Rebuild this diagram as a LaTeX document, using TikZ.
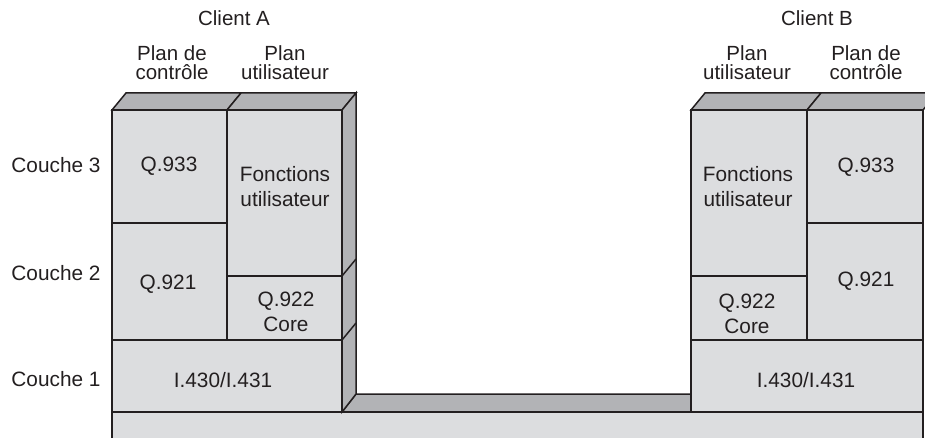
\documentclass[tikz,border=0pt]{standalone}
\usepackage{fontspec}
\setmainfont{Liberation Sans}
\definecolor{frontgray}{HTML}{DCDDDF}
\definecolor{sidegray}{HTML}{B2B3B6}
\definecolor{ink}{HTML}{231F20}
\begin{document}
\begin{tikzpicture}[x=1pt,y=-1pt,
  face/.style={fill=frontgray,draw=ink,line width=1.5pt,line join=miter},
  sideface/.style={fill=sidegray,draw=ink,line width=1.5pt,line join=miter},
  edge/.style={draw=ink,line width=1.5pt},
  lbl/.style={font=\fontsize{20.8}{25}\selectfont,align=center,text=ink,inner sep=0pt,anchor=base},
  hdr/.style={font=\fontsize{20.5}{19}\selectfont,align=center,text=ink,inner sep=0pt,anchor=base}]
\useasboundingbox (0,0) rectangle (925,438);
\begin{scope}
\clip (0,0) rectangle (925,438);
% base slab
\fill[frontgray] (112,412) rectangle (923,450);
\draw[edge] (112,450) -- (112,412) (923,412) -- (923,450);
% channel floor
\draw[sideface] (342,412) -- (356,394) -- (691,394) -- (691,412) -- cycle;
% ---------- Client A block ----------
\draw[sideface] (112,110) -- (126,93) -- (241,93) -- (227,110) -- cycle;
\draw[sideface] (227,110) -- (241,93) -- (356,93) -- (342,110) -- cycle;
\draw[sideface] (342,110) -- (356,93) -- (356,394) -- (342,412) -- cycle;
\draw[edge] (342,276) -- (356,259) (342,340) -- (356,323);
\draw[face] (112,110) rectangle (227,223);
\draw[face] (112,223) rectangle (227,340);
\draw[face] (227,110) rectangle (342,276);
\draw[face] (227,276) rectangle (342,340);
\draw[face] (112,340) rectangle (342,412);
% ---------- Client B block ----------
\draw[sideface] (691,110) -- (705,93) -- (821,93) -- (807,110) -- cycle;
\draw[sideface] (807,110) -- (821,93) -- (937,93) -- (923,110) -- cycle;
\draw[face] (691,110) rectangle (807,276);
\draw[face] (691,276) rectangle (807,340);
\draw[face] (807,110) rectangle (923,223);
\draw[face] (807,223) rectangle (923,340);
\draw[face] (691,340) rectangle (923,412);
% base top line
\draw[draw=ink,line width=2.4pt] (112,412) -- (923,412);
\end{scope}
% ---------- headers ----------
\node[hdr] (clientA) at (234,26) {Client A};
\node[hdr] (clientB) at (817,26) {Client B};
\node[hdr] (pcA) at (172,80) {Plan de\\contrôle};
\node[hdr] (puA) at (285,80) {Plan\\utilisateur};
\node[hdr] (puB) at (747,80) {Plan\\utilisateur};
\node[hdr] (pcB) at (866,80) {Plan de\\contrôle};
% ---------- layer labels ----------
\node[lbl] (c3) at (56,173) {Couche 3};
\node[lbl] (c2) at (56,280) {Couche 2};
\node[lbl] (c1) at (56,386) {Couche 1};
% ---------- Client A texts ----------
\node[lbl] (qa933) at (169,172) {Q.933};
\node[lbl] (fua) at (285,207) {Fonctions\\utilisateur};
\node[lbl] (qa921) at (168,289) {Q.921};
\node[lbl] (qa922) at (286,331) {Q.922\\Core};
\node[lbl] (ia) at (223,387) {I.430/I.431};
% ---------- Client B texts ----------
\node[lbl] (fub) at (748,207) {Fonctions\\utilisateur};
\node[lbl] (qb933) at (866,173) {Q.933};
\node[lbl] (qb921) at (866,286) {Q.921};
\node[lbl] (qb922) at (747,333) {Q.922\\Core};
\node[lbl] (ib) at (806,387) {I.430/I.431};
\end{tikzpicture}
\end{document}
